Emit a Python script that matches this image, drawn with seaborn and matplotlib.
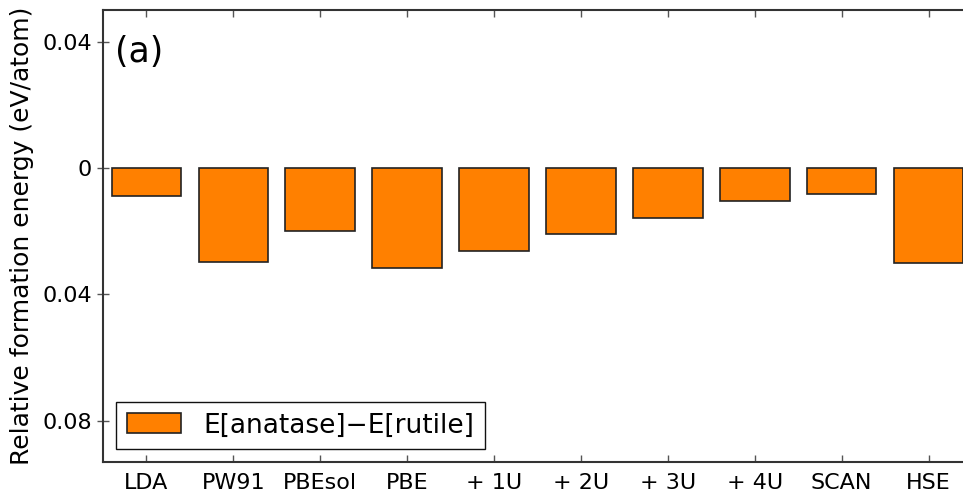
import matplotlib
matplotlib.use("Agg")
import matplotlib.pyplot as plt
import seaborn as sns
import pandas as pd

methods = ["LDA", "PW91", "PBEsol", "PBE", "+ 1U", "+ 2U", "+ 3U", "+ 4U", "SCAN", "HSE"]
energies = [-0.0088, -0.0297, -0.0200, -0.0315, -0.0261, -0.0210, -0.0157, -0.0104, -0.0083, -0.0301]
yticks = [0.04, 0.0, -0.04, -0.08]
ytick_labels = ["0.04", "0", "0.04", "0.08"]
series_label = "E[anatase]\u2212E[rutile]"

sns.set_theme(style="ticks")
plt.rcParams["font.family"] = ["DejaVu Sans"]
plt.rcParams["text.color"] = "black"
plt.rcParams["axes.labelcolor"] = "black"
plt.rcParams["xtick.labelcolor"] = "black"
plt.rcParams["ytick.labelcolor"] = "black"

df = pd.DataFrame({"method": methods, "energy": energies})

fig = plt.figure(figsize=(9.63, 4.94), dpi=100)
ax = fig.add_axes([103 / 963, 1 - 461.7 / 494, 869 / 963, (461.7 - 10) / 494])

sns.barplot(data=df, x="method", y="energy", color="#ff8000", saturation=1,
            edgecolor="#222222", linewidth=1.2, width=0.8, ax=ax, label=series_label)

ax.set_xlim(-0.5, 9.5)
ax.set_ylim(-0.0929, 0.05)
ax.set_yticks(yticks)
ax.set_yticklabels(ytick_labels)
ax.set_xlabel("")
ax.set_ylabel("Relative formation energy (eV/atom)", fontsize=18, labelpad=6)

for s in ax.spines.values():
    s.set_color("#333333")
    s.set_linewidth(1.5)
    s.set_visible(True)

ax.tick_params(axis="x", direction="in", top=True, bottom=True, length=5, width=1,
               color="#555555", labelsize=16, pad=8)
ax.tick_params(axis="y", direction="inout", left=True, right=False, length=8, width=1,
               color="#555555", labelsize=16, pad=4)

ax.text(0.014, 0.945, "(a)", transform=ax.transAxes, fontsize=25, va="top", ha="left")

leg = ax.legend(loc="lower left", bbox_to_anchor=(0.015, 0.028), fontsize=19,
                frameon=True, fancybox=False, edgecolor="#111111", framealpha=1,
                handlelength=2.05, handleheight=0.8, borderpad=0.4, handletextpad=0.85,
                borderaxespad=0)
leg.get_frame().set_linewidth(1.0)

fig.savefig("out.png", dpi=100)
